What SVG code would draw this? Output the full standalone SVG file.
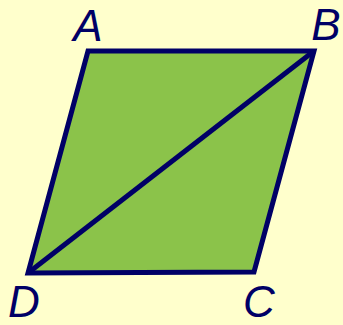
<svg xmlns="http://www.w3.org/2000/svg" width="343" height="325" viewBox="0 0 343 325">
<style>
.lbl{font-family:"Liberation Sans",Arial,sans-serif;font-style:italic;font-size:44px;fill:#000066;text-anchor:middle}
.edge{fill:none;stroke:#000066;stroke-width:5;stroke-linejoin:miter}
</style>
<rect width="343" height="325" fill="#FFFFCC"/>
<g id="shape">
<polygon points="88,51 314,51 254,272 28,273" fill="#8BC34A" stroke="#000066" stroke-width="5" stroke-linejoin="miter"/>
</g>
<g id="connectors">
<line class="edge" x1="28" y1="273" x2="314" y2="51"/>
</g>
<g id="A"><text class="lbl" x="88" y="41">A</text></g>
<g id="B"><text class="lbl" x="326" y="40">B</text></g>
<g id="C"><text class="lbl" x="259" y="317">C</text></g>
<g id="D"><text class="lbl" x="24" y="317">D</text></g>
</svg>
